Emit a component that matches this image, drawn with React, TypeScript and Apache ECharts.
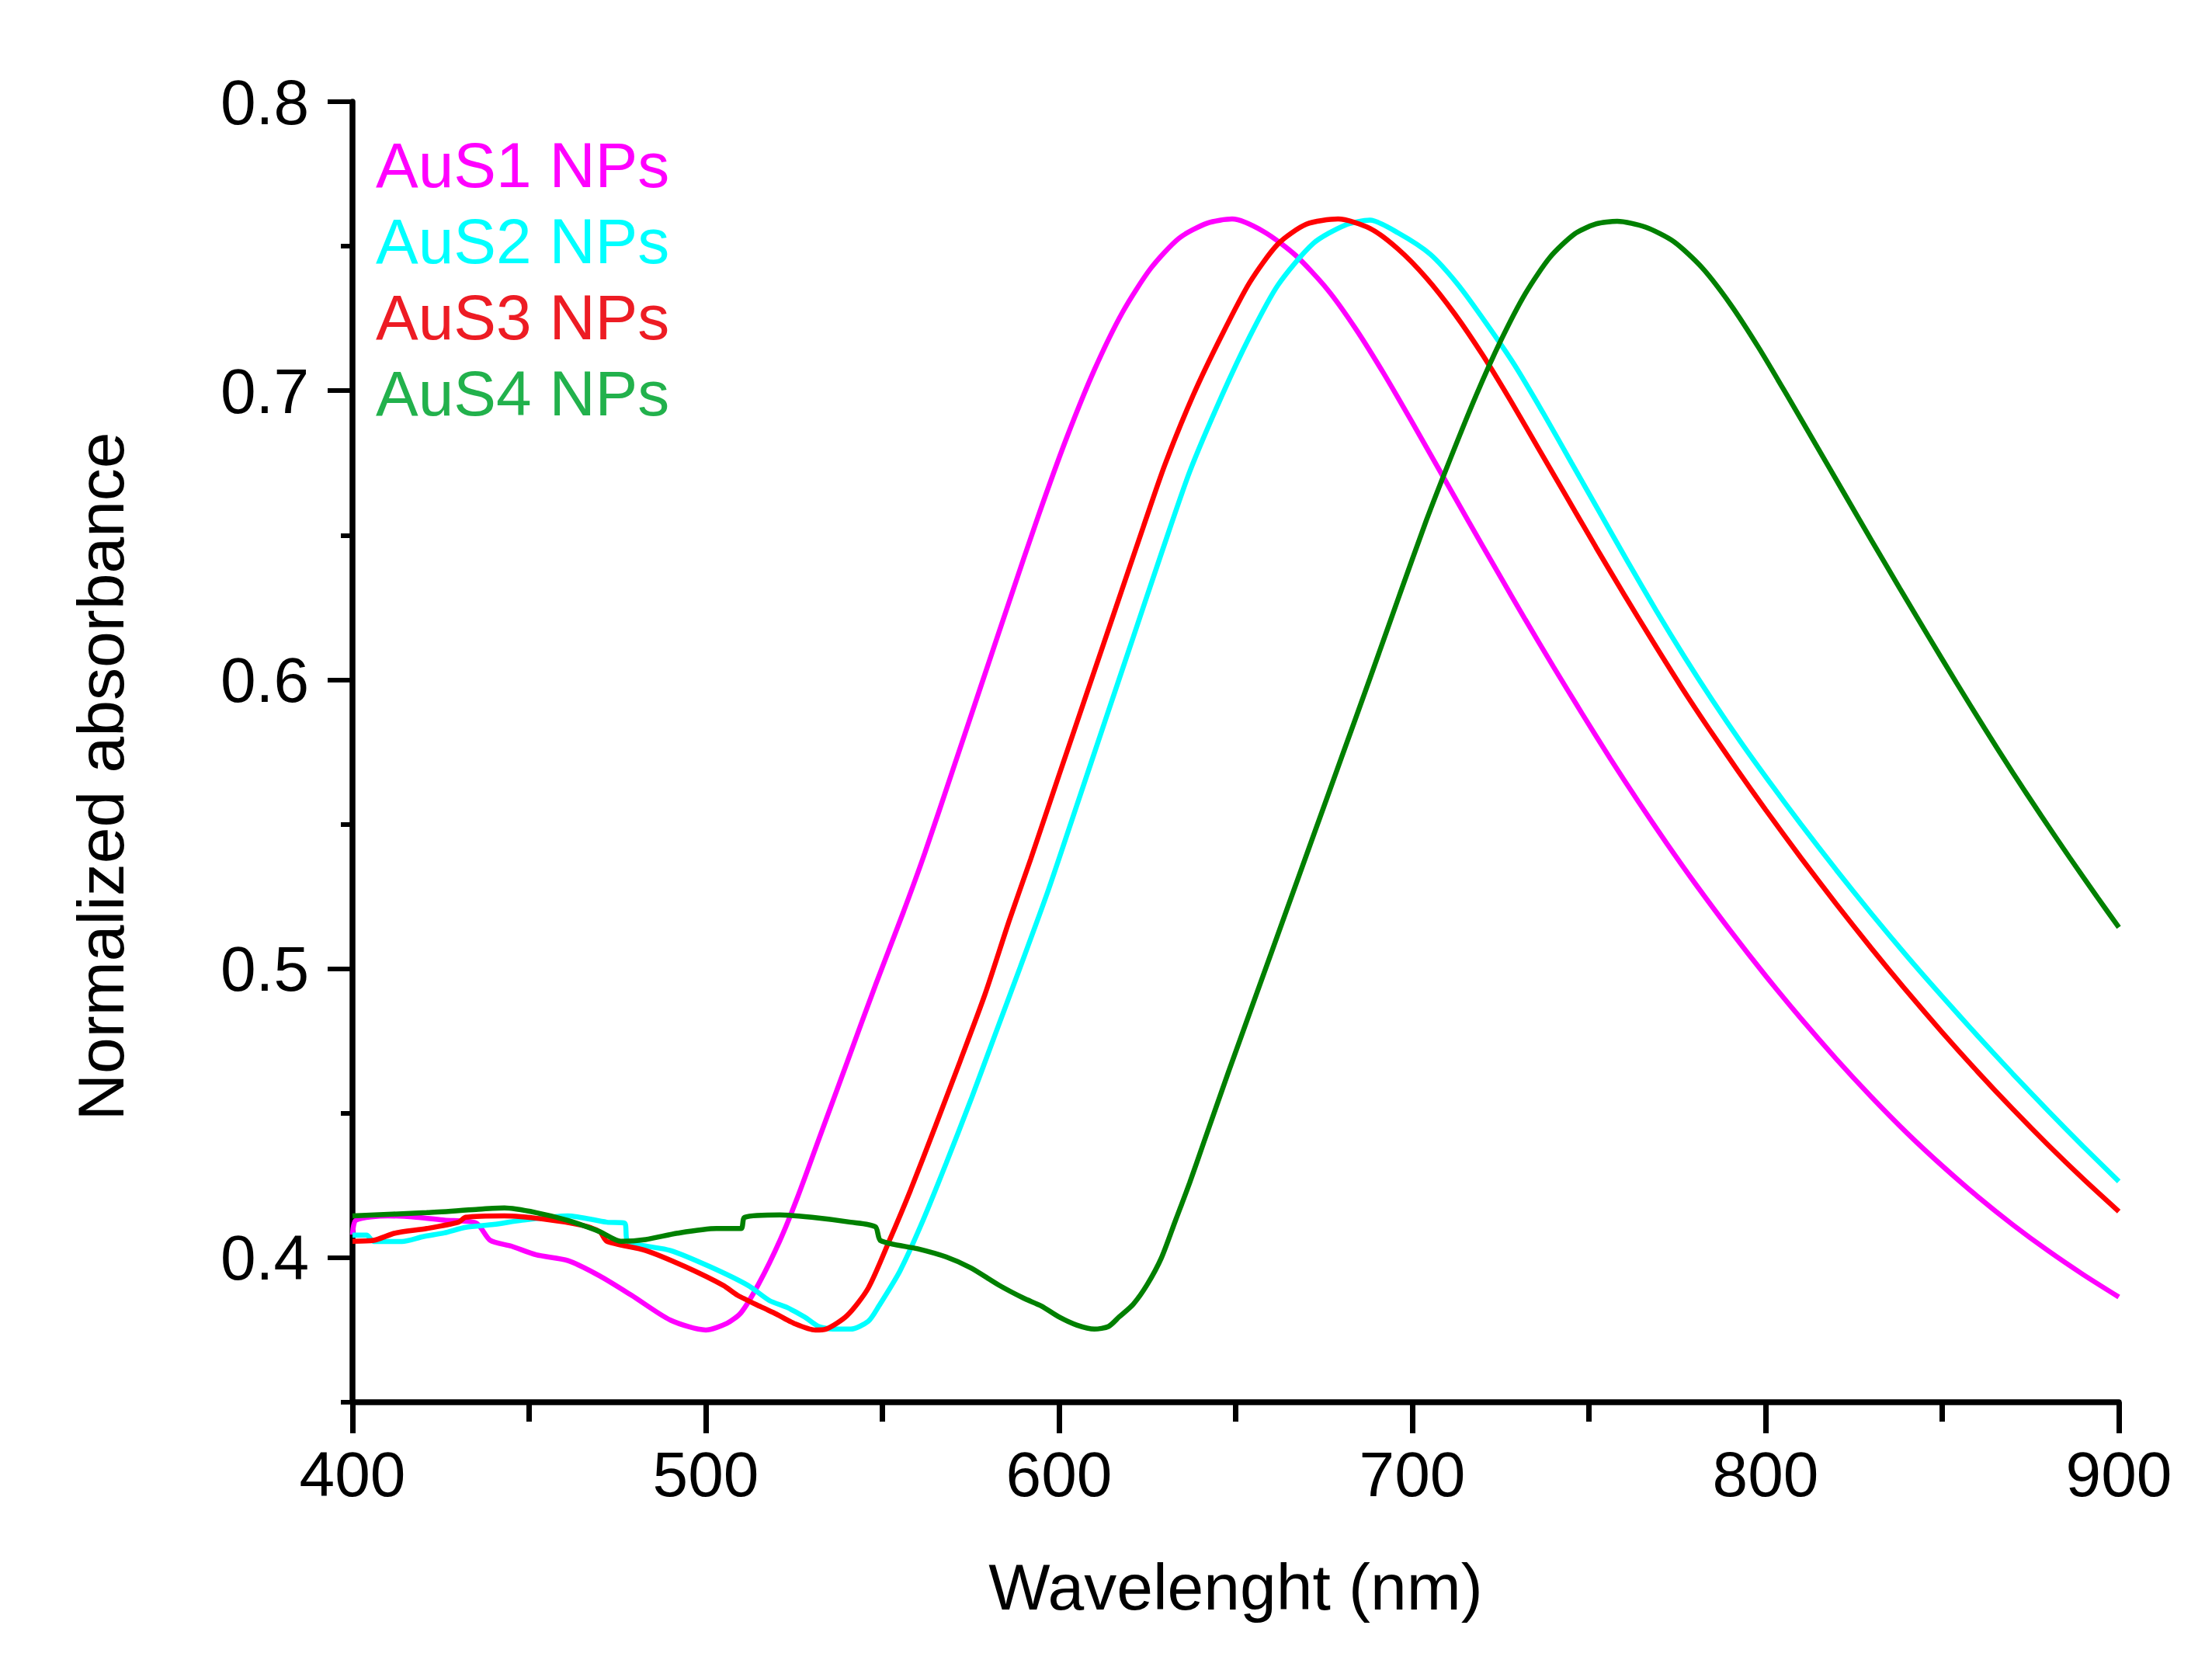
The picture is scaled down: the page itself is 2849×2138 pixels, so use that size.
import React, { useEffect, useRef } from "react";
import * as echarts from "echarts";

const FONT = "'Liberation Sans', Arial, Helvetica, sans-serif";

const seriesNames = ["AuS1 NPs", "AuS2 NPs", "AuS3 NPs", "AuS4 NPs"];
const lineColors = ["#ff00ff", "#00ffff", "#ff0000", "#008000"];
const legendColors = ["#ff00ff", "#00ffff", "#ed1c24", "#22b14c"];

const xAxisTitle = "Wavelenght (nm)";
const yAxisTitle = "Normalized absorbance";
const yTickLabels = [0.4, 0.5, 0.6, 0.7, 0.8];
const yMinorTicks = [0.35, 0.45, 0.55, 0.65, 0.75];

// AuS1 NPs (magenta)
const s1Wavelength = [400, 401, 410, 418, 426, 435, 439, 445, 452, 461, 470, 479, 490, 500, 506, 510, 515, 521, 526, 532, 540, 548, 556, 562, 570, 578, 586, 594, 602, 610, 618, 626, 634, 642, 649, 658, 667, 676, 684, 692, 700, 708, 716, 724, 732, 740, 748, 756, 764, 772, 780, 790, 800, 810, 820, 830, 840, 850, 860, 870, 880, 890, 900];
const s1Absorbance = [0.408, 0.413, 0.4145, 0.414, 0.413, 0.412, 0.406, 0.404, 0.401, 0.399, 0.3937, 0.387, 0.3784, 0.375, 0.3773, 0.381, 0.391, 0.406, 0.421, 0.441, 0.4676, 0.4942, 0.5198, 0.54, 0.569, 0.5982, 0.6274, 0.6562, 0.6832, 0.7072, 0.7272, 0.7424, 0.7528, 0.758, 0.7594, 0.755, 0.7468, 0.735, 0.7214, 0.7058, 0.689, 0.6718, 0.6546, 0.6376, 0.6208, 0.6044, 0.5884, 0.5728, 0.5578, 0.5434, 0.5296, 0.5132, 0.4976, 0.4828, 0.4688, 0.4556, 0.4432, 0.4318, 0.4212, 0.4114, 0.4024, 0.3941, 0.3864];

// AuS2 NPs (cyan)
const s2Wavelength = [400, 404, 406, 414, 420, 426, 432, 440, 448, 461, 472, 477, 478, 490, 501, 512, 518, 523, 528, 532, 536, 541, 546, 549, 555, 561, 568, 575, 582, 589, 597, 605, 613, 621, 629, 637, 646, 654, 662, 672, 681, 688, 696, 705, 713, 721, 729, 737, 745, 753, 761, 769, 777, 785, 793, 801, 810, 820, 830, 840, 850, 860, 870, 880, 890, 900];
const s2Absorbance = [0.4078, 0.4078, 0.4056, 0.4056, 0.4073, 0.4086, 0.4105, 0.4115, 0.413, 0.4145, 0.4123, 0.412, 0.4057, 0.4025, 0.397, 0.3904, 0.3852, 0.3828, 0.3795, 0.3762, 0.3753, 0.3753, 0.378, 0.3833, 0.3955, 0.4115, 0.4325, 0.4545, 0.4775, 0.5005, 0.5273, 0.5564, 0.5856, 0.6147, 0.6438, 0.672, 0.698, 0.7188, 0.7366, 0.751, 0.7573, 0.759, 0.7546, 0.7473, 0.7366, 0.7232, 0.7088, 0.6924, 0.6752, 0.658, 0.6408, 0.624, 0.608, 0.5928, 0.5784, 0.5648, 0.55, 0.5342, 0.519, 0.5044, 0.4904, 0.4768, 0.4636, 0.4508, 0.4384, 0.4264];

// AuS3 NPs (red)
const s3Wavelength = [400, 406, 412, 421, 430, 432, 443, 454, 465, 470, 472, 483, 494, 505, 509, 516, 520, 525, 531, 534, 540, 546, 552, 558, 565, 572, 579, 586, 592, 600, 608, 616, 624, 630, 638, 646, 654, 662, 670, 679, 688, 696, 704, 712, 720, 728, 736, 744, 752, 760, 768, 776, 784, 792, 800, 810, 820, 830, 840, 850, 860, 870, 880, 890, 900];
const s3Absorbance = [0.4057, 0.406, 0.4085, 0.4101, 0.4123, 0.414, 0.4145, 0.4134, 0.4112, 0.409, 0.4057, 0.4025, 0.397, 0.3904, 0.387, 0.3828, 0.3805, 0.3773, 0.375, 0.3753, 0.38, 0.3895, 0.406, 0.4235, 0.4455, 0.468, 0.491, 0.517, 0.538, 0.567, 0.5958, 0.6246, 0.6534, 0.6745, 0.6985, 0.719, 0.7375, 0.7508, 0.7576, 0.7594, 0.7562, 0.749, 0.739, 0.7266, 0.7122, 0.6962, 0.6794, 0.6626, 0.6458, 0.6294, 0.6134, 0.5978, 0.583, 0.5688, 0.555, 0.5384, 0.5224, 0.507, 0.4922, 0.478, 0.4644, 0.4514, 0.439, 0.4272, 0.416];

// AuS4 NPs (green)
const s4Wavelength = [400, 421, 435, 443, 452, 461, 470, 476, 483, 492, 503, 510, 511, 521, 530, 541, 548, 549.5, 560, 568, 575, 583, 590, 595, 600, 605, 610, 614, 617, 621, 625, 629, 633, 637, 641, 648, 656, 664, 672, 680, 688, 696, 704, 711, 718, 725, 732, 739, 746, 752, 758, 766, 774, 782, 790, 798, 806, 814, 822, 830, 838, 846, 854, 862, 870, 878, 886, 894, 900];
const s4Absorbance = [0.4145, 0.4156, 0.4167, 0.4172, 0.4156, 0.4129, 0.409, 0.4057, 0.4063, 0.4085, 0.4101, 0.4101, 0.414, 0.4148, 0.414, 0.4123, 0.4107, 0.4059, 0.4031, 0.4003, 0.3965, 0.3905, 0.386, 0.3833, 0.3795, 0.3767, 0.3753, 0.3762, 0.3795, 0.3839, 0.3908, 0.4, 0.413, 0.426, 0.44, 0.4644, 0.4916, 0.5188, 0.546, 0.5732, 0.6004, 0.628, 0.6552, 0.6772, 0.6982, 0.7172, 0.7336, 0.7462, 0.7543, 0.7577, 0.7586, 0.7566, 0.7516, 0.7426, 0.73, 0.715, 0.6986, 0.6818, 0.665, 0.6482, 0.6316, 0.6152, 0.599, 0.5832, 0.5678, 0.553, 0.5386, 0.5246, 0.5143];

const seriesWavelengths = [s1Wavelength, s2Wavelength, s3Wavelength, s4Wavelength];
const seriesAbsorbances = [s1Absorbance, s2Absorbance, s3Absorbance, s4Absorbance];

export default function App() {
  const ref = useRef<HTMLDivElement>(null);

  useEffect(() => {
    if (!ref.current) return;
    const chart = echarts.init(ref.current, null, { renderer: "svg" });

    const series = seriesNames.map((name, i) => ({
      name,
      type: "line",
      data: seriesWavelengths[i].map((w, j) => [w, seriesAbsorbances[i][j]]),
      showSymbol: false,
      symbol: "none",
      smooth: 0.25,
      lineStyle: { color: lineColors[i], width: 6.5 },
      itemStyle: { color: lineColors[i] },
      emphasis: { disabled: true },
      z: 2 + i,
    }));

    chart.setOption({
      animation: false,
      backgroundColor: "#ffffff",
      grid: { left: 454, top: 131, width: 2275, height: 1675, containLabel: false },
      legend: {
        orient: "vertical",
        left: 479,
        top: 171,
        padding: 0,
        itemGap: 16,
        itemWidth: 0,
        itemHeight: 82,
        icon: "none",
        selectedMode: false,
        textStyle: { fontSize: 82, fontFamily: FONT, lineHeight: 82 },
        data: seriesNames.map((n, i) => ({ name: n, textStyle: { color: legendColors[i] } })),
      },
      xAxis: {
        type: "value",
        min: 400,
        max: 900,
        interval: 100,
        name: xAxisTitle,
        nameLocation: "middle",
        nameGap: 196,
        nameTextStyle: { fontSize: 84, fontFamily: FONT, color: "#000" },
        axisLine: { show: true, onZero: false, lineStyle: { color: "#000", width: 7.5 } },
        axisTick: { show: true, length: 40, lineStyle: { color: "#000", width: 7 } },
        minorTick: { show: true, splitNumber: 2, length: 25, lineStyle: { color: "#000", width: 7 } },
        axisLabel: { fontSize: 82, fontFamily: FONT, color: "#000", margin: 51 },
        splitLine: { show: false },
        minorSplitLine: { show: false },
      },
      yAxis: [
        {
          type: "value",
          min: 0.35,
          max: 0.8,
          position: "left",
          axisLine: { show: true, onZero: false, lineStyle: { color: "#000", width: 7.5 } },
          axisTick: { show: true, customValues: yTickLabels, length: 32, lineStyle: { color: "#000", width: 6 } },
          axisLabel: {
            customValues: yTickLabels,
            formatter: (v: number) => v.toFixed(1),
            fontSize: 82,
            fontFamily: FONT,
            color: "#000",
            margin: 56,
          },
          splitLine: { show: false },
        },
        {
          type: "value",
          min: 0.35,
          max: 0.8,
          position: "left",
          offset: 0,
          axisLine: { show: false },
          axisTick: { show: true, customValues: yMinorTicks, length: 15, lineStyle: { color: "#000", width: 6 } },
          axisLabel: { show: false },
          splitLine: { show: false },
        },
      ],
      graphic: [
        {
          type: "text",
          x: 130,
          y: 1000,
          rotation: Math.PI / 2,
          style: {
            text: yAxisTitle,
            fontSize: 84,
            fontFamily: FONT,
            fill: "#000",
            align: "center",
            verticalAlign: "middle",
          },
        },
      ],
      series,
    });

    return () => chart.dispose();
  }, []);

  return (
    <div
      ref={ref}
      style={{ position: "fixed", left: 0, top: 0, width: 2849, height: 2138, background: "#fff" }}
    />
  );
}
